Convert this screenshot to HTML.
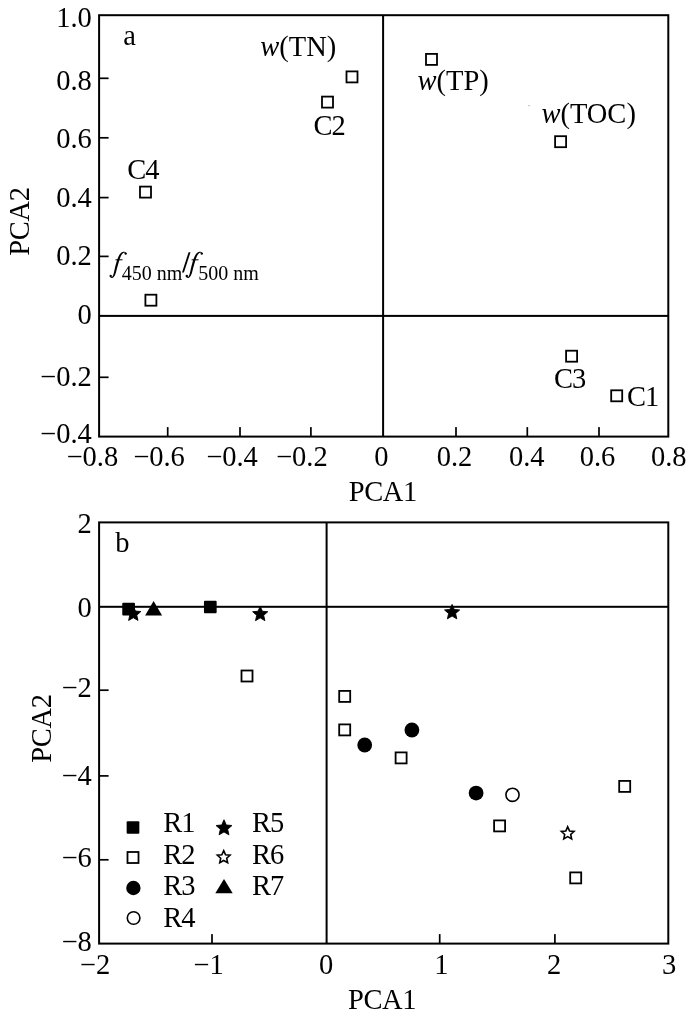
<!DOCTYPE html>
<html><head><meta charset="utf-8"><title>PCA</title>
<style>
html,body{margin:0;padding:0;background:#fff;}
svg{display:block;filter:grayscale(100%);will-change:transform;}
text{font-family:"Liberation Serif",serif;font-size:28.5px;fill:#000;}
</style></head>
<body>
<svg width="700" height="1015" viewBox="0 0 700 1015">
<rect x="0" y="0" width="700" height="1015" fill="#fff"/>
<rect x="99.1" y="15.2" width="569.2" height="421.4" fill="none" stroke="#000" stroke-width="2"/>
<rect x="382.1" y="15.2" width="2" height="421.4"/>
<rect x="99.1" y="314.9" width="569.2" height="2"/>
<rect x="166.85" y="427.1" width="1.7" height="9.5"/>
<rect x="239.15" y="427.1" width="1.7" height="9.5"/>
<rect x="310.05" y="427.1" width="1.7" height="9.5"/>
<rect x="455.15" y="427.1" width="1.7" height="9.5"/>
<rect x="526.45" y="427.1" width="1.7" height="9.5"/>
<rect x="598.15" y="427.1" width="1.7" height="9.5"/>
<rect x="99.1" y="77.45" width="9.5" height="1.7"/>
<rect x="99.1" y="136.95" width="9.5" height="1.7"/>
<rect x="99.1" y="196.75" width="9.5" height="1.7"/>
<rect x="99.1" y="255.55" width="9.5" height="1.7"/>
<rect x="99.1" y="376.45" width="9.5" height="1.7"/>
<text x="91.8" y="26.8" text-anchor="end">1.0</text>
<text x="91.8" y="89.9" text-anchor="end">0.8</text>
<text x="91.8" y="147.9" text-anchor="end">0.6</text>
<text x="91.8" y="206.6" text-anchor="end">0.4</text>
<text x="91.8" y="264.9" text-anchor="end">0.2</text>
<text x="91.8" y="323.9" text-anchor="end">0</text>
<text x="91.8" y="386.1" text-anchor="end">−0.2</text>
<text x="91.8" y="442.7" text-anchor="end">−0.4</text>
<text x="92.4" y="466" text-anchor="middle">−0.8</text>
<text x="159" y="466" text-anchor="middle">−0.6</text>
<text x="232" y="466" text-anchor="middle">−0.4</text>
<text x="301.9" y="466" text-anchor="middle">−0.2</text>
<text x="381.4" y="466" text-anchor="middle">0</text>
<text x="454.5" y="466" text-anchor="middle">0.2</text>
<text x="526.7" y="466" text-anchor="middle">0.4</text>
<text x="597.5" y="466" text-anchor="middle">0.6</text>
<text x="668.8" y="466" text-anchor="middle">0.8</text>
<text x="382.8" y="501" text-anchor="middle" letter-spacing="-0.45">PCA1</text>
<text transform="translate(29.3,221.6) rotate(-90)" text-anchor="middle" letter-spacing="-0.3">PCA2</text>
<text x="123.3" y="45">a</text>
<rect x="140" y="186.6" width="11.0" height="11.0" fill="#fff" stroke="#000" stroke-width="1.8"/>
<rect x="145.4" y="294.7" width="11.0" height="11.0" fill="#fff" stroke="#000" stroke-width="1.8"/>
<rect x="322" y="96.6" width="11.0" height="11.0" fill="#fff" stroke="#000" stroke-width="1.8"/>
<rect x="346.5" y="71.4" width="11.0" height="11.0" fill="#fff" stroke="#000" stroke-width="1.8"/>
<rect x="426" y="53.9" width="11.0" height="11.0" fill="#fff" stroke="#000" stroke-width="1.8"/>
<rect x="555.1" y="136.2" width="11.0" height="11.0" fill="#fff" stroke="#000" stroke-width="1.8"/>
<rect x="566.1" y="350.7" width="11.0" height="11.0" fill="#fff" stroke="#000" stroke-width="1.8"/>
<rect x="611.2" y="390.3" width="11.0" height="11.0" fill="#fff" stroke="#000" stroke-width="1.8"/>
<text x="127.3" y="178.6" letter-spacing="-1">C4</text>
<text x="313.5" y="134.5" letter-spacing="-1">C2</text>
<text x="554.1" y="387.6" letter-spacing="-1">C3</text>
<text x="627" y="405.6" letter-spacing="-1">C1</text>
<text x="260.3" y="55.7"><tspan font-style="italic">w</tspan>(TN)</text>
<text x="417.5" y="89.8"><tspan font-style="italic">w</tspan>(TP)</text>
<text x="541.4" y="123.3"><tspan font-style="italic">w</tspan>(TOC)</text>
<rect x="528.2" y="105.1" width="1.6" height="1.1" fill="#b4b4b4"/>
<polygon points="110.12,276.91 110.17,276.96 110.24,277.02 110.32,277.12 110.42,277.23 110.54,277.35 110.67,277.47 110.80,277.60 110.95,277.72 111.11,277.83 111.28,277.93 111.49,278.00 111.70,278.02 111.89,278.00 112.06,277.96 112.24,277.93 112.42,277.89 112.59,277.82 112.77,277.73 112.94,277.63 113.11,277.51 113.28,277.38 113.45,277.24 113.61,277.08 113.76,276.91 113.91,276.74 114.06,276.55 114.21,276.36 114.35,276.15 114.50,275.93 114.64,275.70 114.78,275.44 114.92,275.17 115.06,274.88 115.20,274.57 115.34,274.24 115.47,273.88 115.61,273.49 115.74,273.07 115.88,272.63 116.01,272.16 116.14,271.68 116.26,271.19 116.39,270.69 116.52,270.19 116.64,269.69 116.77,269.20 116.89,268.72 117.02,268.26 117.15,267.80 117.28,267.33 117.41,266.86 117.54,266.38 117.68,265.91 117.81,265.43 117.94,264.97 118.07,264.51 118.19,264.06 118.32,263.63 118.44,263.21 118.56,262.81 118.67,262.42 118.78,262.05 118.88,261.70 118.98,261.36 119.08,261.03 119.18,260.71 119.28,260.39 119.37,260.09 119.47,259.78 119.57,259.48 119.68,259.18 119.78,258.88 119.90,258.57 120.01,258.25 120.12,257.94 120.24,257.64 120.35,257.34 120.47,257.04 120.58,256.75 120.70,256.48 120.82,256.21 120.94,255.95 121.06,255.71 121.18,255.49 121.30,255.27 121.43,255.06 121.56,254.85 121.70,254.65 121.84,254.46 121.98,254.27 122.12,254.10 122.27,253.93 122.41,253.77 122.54,253.63 122.68,253.49 122.80,253.37 122.92,253.26 123.04,253.16 123.17,253.07 123.29,252.99 123.41,252.91 123.54,252.84 123.67,252.78 123.79,252.72 123.92,252.67 124.04,252.63 124.17,252.62 124.28,252.62 124.37,252.63 124.46,252.65 124.56,252.69 124.67,252.74 124.78,252.80 124.90,252.87 125.01,252.94 125.12,253.02 125.22,253.09 125.32,253.16 125.41,253.22 125.49,253.26 125.91,252.54 125.86,252.51 125.79,252.46 125.70,252.40 125.59,252.33 125.47,252.24 125.34,252.16 125.20,252.07 125.04,251.99 124.88,251.91 124.70,251.85 124.51,251.80 124.32,251.78 124.15,251.78 123.98,251.79 123.81,251.77 123.62,251.77 123.43,251.77 123.24,251.79 123.03,251.83 122.83,251.88 122.62,251.94 122.41,252.02 122.20,252.12 122.00,252.23 121.79,252.36 121.59,252.49 121.39,252.64 121.19,252.80 120.98,252.98 120.78,253.16 120.58,253.36 120.38,253.57 120.18,253.79 119.99,254.02 119.81,254.26 119.62,254.51 119.45,254.77 119.28,255.05 119.11,255.34 118.95,255.63 118.80,255.93 118.64,256.24 118.50,256.55 118.36,256.86 118.22,257.18 118.08,257.49 117.95,257.81 117.82,258.12 117.69,258.44 117.56,258.76 117.44,259.08 117.33,259.40 117.22,259.72 117.11,260.04 117.00,260.38 116.89,260.72 116.78,261.07 116.67,261.43 116.56,261.80 116.44,262.19 116.33,262.60 116.20,263.03 116.08,263.47 115.96,263.93 115.83,264.39 115.71,264.87 115.58,265.34 115.46,265.83 115.33,266.31 115.21,266.79 115.10,267.26 114.98,267.74 114.87,268.22 114.75,268.72 114.64,269.22 114.53,269.73 114.43,270.24 114.32,270.74 114.22,271.22 114.12,271.70 114.02,272.15 113.92,272.57 113.82,272.96 113.73,273.32 113.63,273.64 113.54,273.95 113.44,274.23 113.35,274.49 113.26,274.74 113.17,274.97 113.09,275.18 113.00,275.38 112.91,275.57 112.82,275.75 112.73,275.92 112.64,276.09 112.55,276.24 112.46,276.39 112.37,276.52 112.29,276.64 112.20,276.75 112.12,276.85 112.04,276.94 111.96,277.02 111.89,277.10 111.82,277.16 111.75,277.17 111.70,277.18 111.68,277.18 111.63,277.16 111.55,277.12 111.46,277.05 111.35,276.97 111.25,276.87 111.14,276.76 111.04,276.65 110.94,276.54 110.84,276.44 110.75,276.35 110.68,276.29" fill="#000"/>
<circle cx="110.7" cy="276" r="1.2" fill="#000"/>
<circle cx="125.7" cy="253.6" r="1.2" fill="#000"/>
<rect x="115.5" y="259.3" width="7" height="1.0"/>
<text x="121.8" y="279.7" style="font-size:20px">450 nm</text>
<polygon points="182.0,272.4 183.9,272.4 190.5,252.2 188.6,252.2"/>
<polygon points="186.22,276.91 186.27,276.96 186.34,277.02 186.42,277.12 186.52,277.23 186.64,277.35 186.77,277.47 186.90,277.60 187.05,277.72 187.21,277.83 187.38,277.93 187.59,278.00 187.80,278.02 187.99,278.00 188.16,277.96 188.34,277.93 188.52,277.89 188.69,277.82 188.87,277.73 189.04,277.63 189.21,277.51 189.38,277.38 189.55,277.24 189.71,277.08 189.86,276.91 190.01,276.74 190.16,276.55 190.31,276.36 190.45,276.15 190.60,275.93 190.74,275.70 190.88,275.44 191.02,275.17 191.16,274.88 191.30,274.57 191.44,274.24 191.57,273.88 191.71,273.49 191.84,273.07 191.98,272.63 192.11,272.16 192.24,271.68 192.36,271.19 192.49,270.69 192.62,270.19 192.74,269.69 192.87,269.20 192.99,268.72 193.12,268.26 193.25,267.80 193.38,267.33 193.51,266.86 193.64,266.38 193.78,265.91 193.91,265.43 194.04,264.97 194.17,264.51 194.29,264.06 194.42,263.63 194.54,263.21 194.66,262.81 194.77,262.42 194.88,262.05 194.98,261.70 195.08,261.36 195.18,261.03 195.28,260.71 195.38,260.39 195.47,260.09 195.57,259.78 195.67,259.48 195.78,259.18 195.88,258.88 196.00,258.57 196.11,258.25 196.22,257.94 196.34,257.64 196.45,257.34 196.57,257.04 196.68,256.75 196.80,256.48 196.92,256.21 197.04,255.95 197.16,255.71 197.28,255.49 197.40,255.27 197.53,255.06 197.66,254.85 197.80,254.65 197.94,254.46 198.08,254.27 198.22,254.10 198.37,253.93 198.51,253.77 198.64,253.63 198.78,253.49 198.90,253.37 199.02,253.26 199.14,253.16 199.27,253.07 199.39,252.99 199.51,252.91 199.64,252.84 199.77,252.78 199.89,252.72 200.02,252.67 200.14,252.63 200.27,252.62 200.38,252.62 200.47,252.63 200.56,252.65 200.66,252.69 200.77,252.74 200.88,252.80 201.00,252.87 201.11,252.94 201.22,253.02 201.32,253.09 201.42,253.16 201.51,253.22 201.59,253.26 202.01,252.54 201.96,252.51 201.89,252.46 201.80,252.40 201.69,252.33 201.57,252.24 201.44,252.16 201.30,252.07 201.14,251.99 200.98,251.91 200.80,251.85 200.61,251.80 200.42,251.78 200.25,251.78 200.08,251.79 199.91,251.77 199.72,251.77 199.53,251.77 199.34,251.79 199.13,251.83 198.93,251.88 198.72,251.94 198.51,252.02 198.30,252.12 198.10,252.23 197.89,252.36 197.69,252.49 197.49,252.64 197.29,252.80 197.08,252.98 196.88,253.16 196.68,253.36 196.48,253.57 196.28,253.79 196.09,254.02 195.91,254.26 195.72,254.51 195.55,254.77 195.38,255.05 195.21,255.34 195.05,255.63 194.90,255.93 194.74,256.24 194.60,256.55 194.46,256.86 194.32,257.18 194.18,257.49 194.05,257.81 193.92,258.12 193.79,258.44 193.66,258.76 193.54,259.08 193.43,259.40 193.32,259.72 193.21,260.04 193.10,260.38 192.99,260.72 192.88,261.07 192.77,261.43 192.66,261.80 192.54,262.19 192.43,262.60 192.30,263.03 192.18,263.47 192.06,263.93 191.93,264.39 191.81,264.87 191.68,265.34 191.56,265.83 191.43,266.31 191.31,266.79 191.20,267.26 191.08,267.74 190.97,268.22 190.85,268.72 190.74,269.22 190.63,269.73 190.53,270.24 190.42,270.74 190.32,271.22 190.22,271.70 190.12,272.15 190.02,272.57 189.92,272.96 189.83,273.32 189.73,273.64 189.64,273.95 189.54,274.23 189.45,274.49 189.36,274.74 189.27,274.97 189.19,275.18 189.10,275.38 189.01,275.57 188.92,275.75 188.83,275.92 188.74,276.09 188.65,276.24 188.56,276.39 188.47,276.52 188.39,276.64 188.30,276.75 188.22,276.85 188.14,276.94 188.06,277.02 187.99,277.10 187.92,277.16 187.85,277.17 187.80,277.18 187.78,277.18 187.73,277.16 187.65,277.12 187.56,277.05 187.45,276.97 187.35,276.87 187.24,276.76 187.14,276.65 187.04,276.54 186.94,276.44 186.85,276.35 186.78,276.29" fill="#000"/>
<circle cx="186.8" cy="276" r="1.2" fill="#000"/>
<circle cx="201.8" cy="253.6" r="1.2" fill="#000"/>
<rect x="191.6" y="259.3" width="7" height="1.0"/>
<text x="198.2" y="279.7" style="font-size:20px">500 nm</text>
<rect x="99.1" y="522.4" width="569.2" height="421.2" fill="none" stroke="#000" stroke-width="2"/>
<rect x="325.6" y="522.4" width="2" height="421.2"/>
<rect x="99.1" y="605.8" width="569.2" height="2"/>
<rect x="211.15" y="934.1" width="1.7" height="9.5"/>
<rect x="438.85" y="934.1" width="1.7" height="9.5"/>
<rect x="554.05" y="934.1" width="1.7" height="9.5"/>
<rect x="99.1" y="689.35" width="9.5" height="1.7"/>
<rect x="99.1" y="775.05" width="9.5" height="1.7"/>
<rect x="99.1" y="858.95" width="9.5" height="1.7"/>
<text x="91.8" y="532.7" text-anchor="end">2</text>
<text x="91.8" y="616.7" text-anchor="end">0</text>
<text x="91.8" y="697" text-anchor="end">−2</text>
<text x="91.8" y="784.9" text-anchor="end">−4</text>
<text x="91.8" y="866.5" text-anchor="end">−6</text>
<text x="91.8" y="951" text-anchor="end">−8</text>
<text x="95" y="973.5" text-anchor="middle">−2</text>
<text x="208.5" y="973.5" text-anchor="middle">−1</text>
<text x="326" y="973.5" text-anchor="middle">0</text>
<text x="441.4" y="973.5" text-anchor="middle">1</text>
<text x="554.1" y="973.5" text-anchor="middle">2</text>
<text x="669.1" y="973.5" text-anchor="middle">3</text>
<text x="382" y="1008.5" text-anchor="middle" letter-spacing="-0.45">PCA1</text>
<text transform="translate(51.4,728.5) rotate(-90)" text-anchor="middle" letter-spacing="-0.3">PCA2</text>
<text x="115.3" y="552">b</text>
<rect x="241.5" y="670.5" width="11.0" height="11.0" fill="#fff" stroke="#000" stroke-width="1.8"/>
<rect x="339.2" y="690.9" width="11.0" height="11.0" fill="#fff" stroke="#000" stroke-width="1.8"/>
<rect x="339.2" y="724.4" width="11.0" height="11.0" fill="#fff" stroke="#000" stroke-width="1.8"/>
<rect x="395.6" y="752.4" width="11.0" height="11.0" fill="#fff" stroke="#000" stroke-width="1.8"/>
<rect x="494.1" y="820.4" width="11.0" height="11.0" fill="#fff" stroke="#000" stroke-width="1.8"/>
<rect x="619.2" y="780.9" width="11.0" height="11.0" fill="#fff" stroke="#000" stroke-width="1.8"/>
<rect x="570.2" y="872.4" width="11.0" height="11.0" fill="#fff" stroke="#000" stroke-width="1.8"/>
<polygon points="133.30,606.05 135.45,611.04 140.86,611.54 136.78,615.13 137.97,620.43 133.30,617.66 128.63,620.43 129.82,615.13 125.74,611.54 131.15,611.04" fill="#000" stroke="#000" stroke-width="0.9" stroke-linejoin="round"/>
<rect x="122.25" y="602.75" width="12.7" height="12.7" rx="1" fill="#000"/>
<rect x="203.95" y="600.65" width="12.7" height="12.7" rx="1" fill="#000"/>
<polygon points="153.6,601 162.1,615.4 145.1,615.4" fill="#000"/>
<polygon points="260.20,606.25 262.35,611.24 267.76,611.74 263.68,615.33 264.87,620.63 260.20,617.86 255.53,620.63 256.72,615.33 252.64,611.74 258.05,611.24" fill="#000" stroke="#000" stroke-width="0.9" stroke-linejoin="round"/>
<polygon points="452.10,604.45 454.25,609.44 459.66,609.94 455.58,613.53 456.77,618.83 452.10,616.06 447.43,618.83 448.62,613.53 444.54,609.94 449.95,609.44" fill="#000" stroke="#000" stroke-width="0.9" stroke-linejoin="round"/>
<circle cx="364.7" cy="745" r="7.4" fill="#000"/>
<circle cx="411.9" cy="730" r="7.4" fill="#000"/>
<circle cx="476.1" cy="793.1" r="7.4" fill="#000"/>
<circle cx="512.5" cy="794.8" r="6.6" fill="#fff" stroke="#000" stroke-width="1.6"/>
<polygon points="567.70,826.80 569.55,830.95 574.07,831.43 570.69,834.47 571.64,838.92 567.70,836.65 563.76,838.92 564.71,834.47 561.33,831.43 565.85,830.95" fill="#fff" stroke="#000" stroke-width="1.6" stroke-linejoin="miter" stroke-miterlimit="10"/>
<rect x="126.65" y="821.15" width="12.7" height="12.7" rx="1" fill="#000"/>
<rect x="127.5" y="852" width="11.0" height="11.0" fill="#fff" stroke="#000" stroke-width="1.8"/>
<circle cx="133.4" cy="888" r="7.2" fill="#000"/>
<circle cx="133.6" cy="918" r="6.3" fill="#fff" stroke="#000" stroke-width="1.6"/>
<polygon points="224.00,819.75 226.26,824.99 231.94,825.52 227.65,829.29 228.91,834.86 224.00,831.94 219.09,834.86 220.35,829.29 216.06,825.52 221.74,824.99" fill="#000" stroke="#000" stroke-width="0.9" stroke-linejoin="round"/>
<polygon points="223.70,850.60 225.55,854.75 230.07,855.23 226.69,858.27 227.64,862.72 223.70,860.45 219.76,862.72 220.71,858.27 217.33,855.23 221.85,854.75" fill="#fff" stroke="#000" stroke-width="1.6" stroke-linejoin="miter" stroke-miterlimit="10"/>
<polygon points="224,879.1 232.7,893.3 215.3,893.3" fill="#000"/>
<text x="163.2" y="832" letter-spacing="-1">R1</text>
<text x="163.2" y="863.9" letter-spacing="-1">R2</text>
<text x="163.2" y="895" letter-spacing="-1">R3</text>
<text x="163.2" y="926.7" letter-spacing="-1">R4</text>
<text x="251.9" y="832" letter-spacing="-1">R5</text>
<text x="251.9" y="863.9" letter-spacing="-1">R6</text>
<text x="251.9" y="895" letter-spacing="-1">R7</text>
</svg>
</body></html>
